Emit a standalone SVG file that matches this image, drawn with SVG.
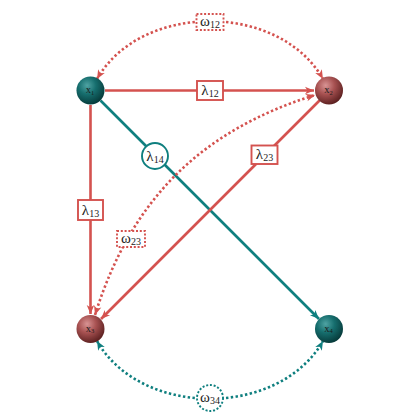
<svg xmlns="http://www.w3.org/2000/svg" width="420" height="420" viewBox="0 0 420 420">
<style>
.bg{fill:#fff}
.red{stroke:#d4524f;fill:none}
.teal{stroke:#0f7f7f;fill:none}
.solid{stroke-width:2.6}
.dot{stroke-width:2.6;stroke-dasharray:2.4 2.4}
.lbox{fill:#fff;stroke-width:1.9}
.dbox{fill:#fff;stroke-width:1.9;stroke-dasharray:2 1.8}
.lab{font-family:"Liberation Serif","DejaVu Serif",serif;font-size:15px;fill:#222;text-anchor:middle}
.sub{font-size:10px}
.nl{font-family:"Liberation Serif","DejaVu Serif",serif;font-size:10.5px;fill:#1a1a1a;text-anchor:middle}
.nsub{font-size:6.5px}
</style>
<defs>
<radialGradient id="gt" cx="0.38" cy="0.32" r="0.7">
<stop offset="0" stop-color="#4fa3a3"/>
<stop offset="0.45" stop-color="#166e6e"/>
<stop offset="1" stop-color="#063a3a"/>
</radialGradient>
<radialGradient id="gr" cx="0.38" cy="0.32" r="0.7">
<stop offset="0" stop-color="#d89494"/>
<stop offset="0.45" stop-color="#a85252"/>
<stop offset="1" stop-color="#5c2020"/>
</radialGradient>
<marker id="ar" viewBox="-10 -5 11 10" refX="0" refY="0" markerWidth="11" markerHeight="10" markerUnits="userSpaceOnUse" orient="auto-start-reverse">
<path d="M0,0 L-9,-3.8 L-6.5,0 L-9,3.8 Z" fill="#d4524f"/>
</marker>
<marker id="at" viewBox="-10 -5 11 10" refX="0" refY="0" markerWidth="11" markerHeight="10" markerUnits="userSpaceOnUse" orient="auto-start-reverse">
<path d="M0,0 L-9,-3.8 L-6.5,0 L-9,3.8 Z" fill="#0f7f7f"/>
</marker>
</defs>
<rect class="bg" x="0" y="0" width="420" height="420"/>
<g id="connectors">
<path class="red solid" d="M105,90.5 L314,90.5" marker-end="url(#ar)"/>
<path class="red solid" d="M90.5,105 L90.5,314" marker-end="url(#ar)"/>
<path class="teal solid" d="M100.5,100.5 L319,319" marker-end="url(#at)"/>
<path class="red solid" d="M319.5,100.5 L101,319" marker-end="url(#ar)"/>
<path class="red dot" d="M97,79 C141,2 279,2 323,79" marker-start="url(#ar)" marker-end="url(#ar)"/>
<path class="teal dot" d="M97,341 C141,418 279,418 323,341" marker-start="url(#at)" marker-end="url(#at)"/>
<path class="red dot" d="M95,315 C131,200 200,131 315,95" marker-start="url(#ar)" marker-end="url(#ar)"/>
</g>
<g id="labels">
<g id="l12"><rect class="red lbox" x="197" y="81" width="26" height="19"/><text class="lab" x="210" y="95">λ<tspan class="sub" dy="2">12</tspan></text></g>
<g id="l13"><rect class="red lbox" x="78" y="200" width="25" height="20"/><text class="lab" x="90.5" y="214.5">λ<tspan class="sub" dy="2">13</tspan></text></g>
<g id="l14"><circle class="teal lbox" cx="155" cy="156" r="13"/><text class="lab" x="155" y="160.5">λ<tspan class="sub" dy="2">14</tspan></text></g>
<g id="l23"><rect class="red lbox" x="251.5" y="145.5" width="26" height="18.5"/><text class="lab" x="264.5" y="159">λ<tspan class="sub" dy="2">23</tspan></text></g>
<g id="w12"><rect class="red dbox" x="196.5" y="14" width="27" height="16"/><text class="lab" x="210" y="25.5">ω<tspan class="sub" dy="2">12</tspan></text></g>
<g id="w23"><rect class="red dbox" x="117" y="231" width="28" height="16"/><text class="lab" x="131" y="242.5">ω<tspan class="sub" dy="2">23</tspan></text></g>
<g id="w34"><circle class="teal dbox" cx="210" cy="398" r="13"/><text class="lab" x="210" y="401.5">ω<tspan class="sub" dy="2">34</tspan></text></g>
</g>
<g id="x1"><circle cx="90.5" cy="90.5" r="14" fill="url(#gt)"/><text class="nl" x="90" y="93">x<tspan class="nsub" dy="1.5">1</tspan></text></g>
<g id="x2"><circle cx="329" cy="90.5" r="14" fill="url(#gr)"/><text class="nl" x="328.5" y="93">x<tspan class="nsub" dy="1.5">2</tspan></text></g>
<g id="x3"><circle cx="90.5" cy="329" r="14" fill="url(#gr)"/><text class="nl" x="90" y="331.5">x<tspan class="nsub" dy="1.5">3</tspan></text></g>
<g id="x4"><circle cx="329" cy="329" r="14" fill="url(#gt)"/><text class="nl" x="328.5" y="331.5">x<tspan class="nsub" dy="1.5">4</tspan></text></g>
</svg>
